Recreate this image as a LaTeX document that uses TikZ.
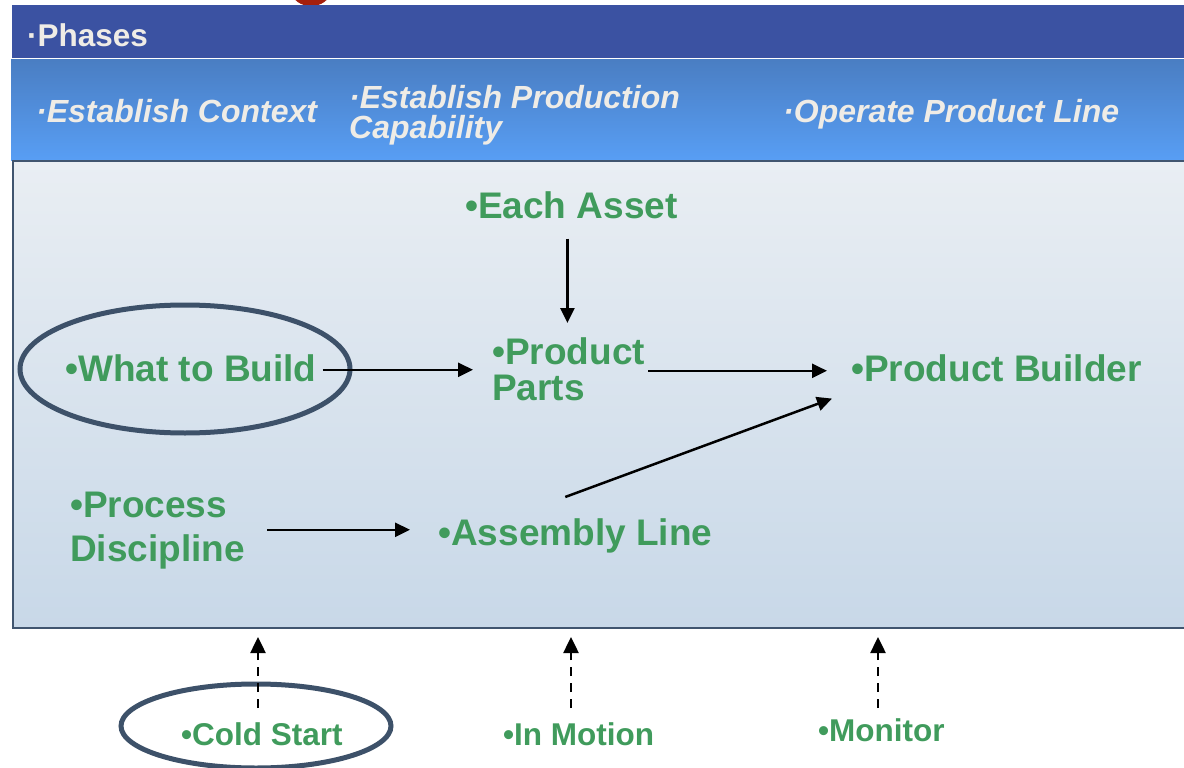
\documentclass[tikz,border=0pt]{standalone}
\usepackage{fontspec}
\setmainfont{Liberation Sans}
\usetikzlibrary{arrows.meta,shapes.geometric}
\definecolor{barblue}{HTML}{3B52A2}
\definecolor{bandtop}{HTML}{4A7EC3}
\definecolor{bandbot}{HTML}{589EF4}
\definecolor{paneltop}{HTML}{E9EEF3}
\definecolor{panelbot}{HTML}{C8D8E8}
\definecolor{panelline}{HTML}{40556F}
\definecolor{leaf}{HTML}{409B5C}
\definecolor{chalk}{HTML}{EFECE6}
\definecolor{ringline}{HTML}{3D5169}
\definecolor{tabred}{HTML}{A41F0D}

\begin{document}
\begin{tikzpicture}[x=1pt,y=-1pt,
  head/.style={font=\fontsize{31.5}{30}\selectfont\bfseries, text=chalk, inner sep=0pt, anchor=base west},
  phase/.style={font=\fontsize{32}{30}\selectfont\bfseries\itshape, text=chalk, inner sep=0pt, align=left},
  item/.style={font=\fontsize{37}{36}\selectfont\bfseries, text=leaf, inner sep=0pt, align=left},
  mode/.style={font=\fontsize{31.5}{30}\selectfont\bfseries, text=leaf, inner sep=0pt, anchor=base west},
  flow/.style={draw=black, line width=2.5pt, -{Triangle[length=15pt,width=14pt]}},
  cue/.style={draw=black, line width=2.5pt, dash pattern=on 9pt off 7pt, -{Triangle[length=16pt,width=15pt]}},
  loop/.style={draw=ringline, line width=5pt, ellipse, inner sep=0pt}
]
\useasboundingbox (0,0) rectangle (1184,768);

% tab peeking above the title bar
\fill[tabred] (311,-8) ellipse [x radius=19, y radius=14];

% title bar and phase band
\fill[barblue] (12,5) rectangle (1190,58);
\shade[top color=bandtop, bottom color=bandbot] (11,60) rectangle (1190,160);

% main panel
\node[draw=panelline, line width=2pt, top color=paneltop, bottom color=panelbot,
      minimum width=1180pt, minimum height=467pt, anchor=north west, inner sep=0pt]
      (stage) at (12,160) {};

% header texts
\node[head] (phases) at (27,47) {·Phases};
\node[phase, anchor=base west] (context) at (36,122) {·Establish Context};
\node[phase, anchor=north west] (capability) at (349,85) {·Establish Production\\Capability};
\node[phase, anchor=base west] (operate) at (783,122) {·Operate Product Line};

% work products
\node[item, anchor=base west] (each) at (465,218) {•Each Asset};
\node[item, anchor=north west] (parts) at (492,337) {•Product\\Parts};
\node[item, anchor=base west] (what) at (65,381) {•What to Build};
\node[item, anchor=base west] (builder) at (851,381) {•Product Builder};
\node[item, anchor=north west, font=\fontsize{37}{44}\selectfont\bfseries] (process) at (70,492) {•Process\\Discipline};
\node[item, anchor=base west] (assembly) at (438,545) {•Assembly Line};

% highlight ring
\node[loop, minimum width=330pt, minimum height=128pt] (whatring) at (185,369) {};

% flows between work products
\draw[flow] ([shift={(6pt,-2pt)}]what.east) -- ([shift={(-19pt,-2pt)}]what.east -| parts.west);
\draw[flow] ([shift={(3pt,-2pt)}]parts.east) -- ([shift={(-24pt,-2pt)}]parts.east -| builder.west);
\draw[flow] ([shift={(-4pt,-20pt)}]each.south) -- ([shift={(-4pt,14pt)}]each.south |- parts.north);
\draw[flow] ([shift={(22pt,1pt)}]process.east) -- ([shift={(-28pt,1pt)}]process.east -| assembly.west);
\draw[flow] ([shift={(-10pt,21pt)}]assembly.north) -- ([shift={(-19pt,-17pt)}]builder.south west);

% operating modes
\node[mode] (cold) at (181,745) {•Cold Start};
\node[mode] (motion) at (503,745) {•In Motion};
\node[mode] (monitor) at (818,741) {•Monitor};
\node[loop, minimum width=270pt, minimum height=84pt] (coldring) at (256,726) {};

\coordinate (coldtail) at (258,708);
\coordinate (motiontail) at (571,708);
\coordinate (monitortail) at (878,708);
\draw[cue, shorten >=8pt] (coldtail) -- (coldtail |- stage.south);
\draw[cue, shorten >=8pt] (motiontail) -- (motiontail |- stage.south);
\draw[cue, shorten >=8pt] (monitortail) -- (monitortail |- stage.south);
\end{tikzpicture}
\end{document}
